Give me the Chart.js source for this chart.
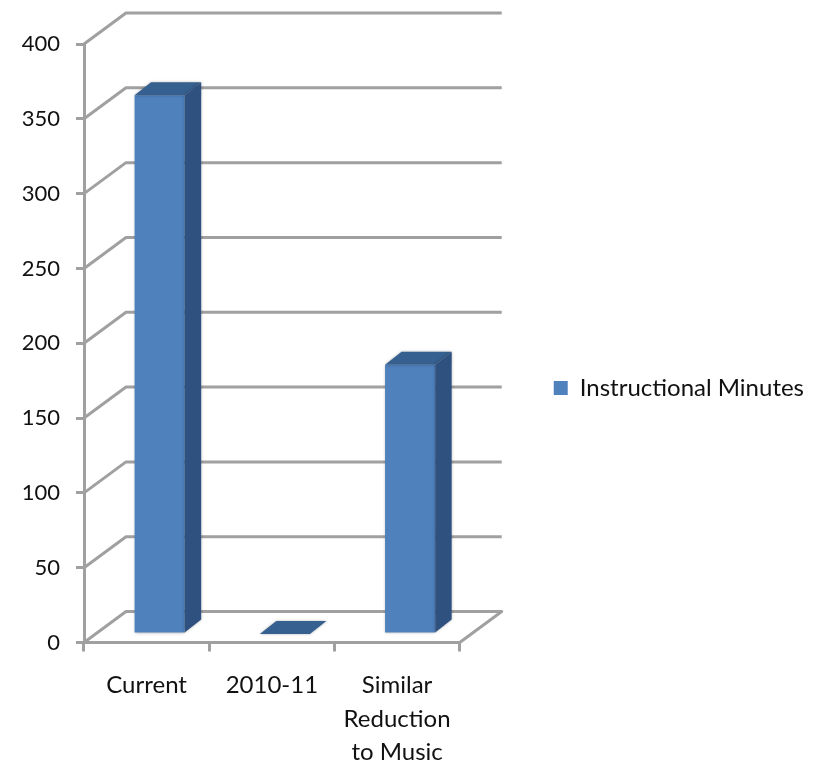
<!DOCTYPE html>
<html>
<head>
<meta charset="utf-8">
<script src="https://cdn.jsdelivr.net/npm/chart.js@4"></script>
<style>
  html, body { margin: 0; padding: 0; background: #fff; }
  canvas { display: block; }
</style>
</head>
<body>
<canvas id="chart" width="825" height="764"></canvas>
<script>
const categories = ["Current", "2010-11", ["Similar", "Reduction", "to Music"]];
const instructionalMinutes = [360, 0, 180];
const seriesName = "Instructional Minutes";

const axisGray = "#a0a0a0";
const textColor = "#111111";
const fontFamily = "Lato, 'Open Sans', sans-serif";

// fake 3D depth, same look as the office chart
const wallDepth = { x: 42, y: -31 };
const barShift = { x: 13, y: -8.5 };
const barDepth = { x: 16.5, y: -13 };

const depthPlugin = {
  id: "depth",
  // legend sits a bit above the middle of the page
  afterLayout(chart) {
    chart.legend.bottom -= 32;
  },
  // back wall, floor and side wall go under the bars
  beforeDatasetsDraw(chart) {
    const { ctx, scales } = chart;
    const left = scales.x.left, right = scales.x.right;
    ctx.save();
    ctx.strokeStyle = axisGray;
    ctx.lineWidth = 3;
    ctx.lineJoin = "round";
    scales.y.ticks.forEach((tick, i) => {
      const y = scales.y.getPixelForTick(i);
      ctx.beginPath();
      ctx.moveTo(left, y);
      ctx.lineTo(left + wallDepth.x, y + wallDepth.y);
      ctx.lineTo(right + wallDepth.x, y + wallDepth.y);
      if (tick.value === 0) ctx.lineTo(right, y);
      ctx.stroke();
    });
    ctx.restore();
  },
  beforeDatasetDraw(chart) {
    const { ctx } = chart;
    ctx.save();
    ctx.translate(barShift.x, barShift.y);
    ctx.shadowColor = "rgba(0,0,0,0.3)";
    ctx.shadowBlur = 3;
  },
  afterDatasetDraw(chart, args) {
    const { ctx } = chart;
    args.meta.data.forEach((bar) => {
      const { x, y, base, width } = bar.getProps(["x", "y", "base", "width"], true);
      const l = x - width / 2, r = x + width / 2;
      // top face
      ctx.fillStyle = "#36608f";
      ctx.beginPath();
      ctx.moveTo(l, y);
      ctx.lineTo(r, y);
      ctx.lineTo(r + barDepth.x, y + barDepth.y);
      ctx.lineTo(l + barDepth.x, y + barDepth.y);
      ctx.closePath();
      ctx.fill();
      // side face
      if (base - y > 0) {
        ctx.fillStyle = "#2f5180";
        ctx.beginPath();
        ctx.moveTo(r, y);
        ctx.lineTo(r + barDepth.x, y + barDepth.y);
        ctx.lineTo(r + barDepth.x, base + barDepth.y);
        ctx.lineTo(r, base);
        ctx.closePath();
        ctx.fill();
      }
    });
    ctx.restore();
  }
};

new Chart(document.getElementById("chart"), {
  type: "bar",
  data: {
    labels: categories,
    datasets: [{
      label: seriesName,
      data: instructionalMinutes,
      backgroundColor: "#4f81bd",
      borderWidth: 0,
      barPercentage: 0.4,
      categoryPercentage: 1,
      clip: false
    }]
  },
  options: {
    responsive: false,
    animation: false,
    layout: { padding: { top: 44, left: 0, right: 11, bottom: 0 } },
    plugins: {
      tooltip: { enabled: false },
      legend: {
        position: "right",
        maxWidth: 366,
        labels: {
          boxWidth: 14,
          boxHeight: 14,
          padding: 94,
          color: textColor,
          font: { family: fontFamily, size: 24 }
        }
      }
    },
    scales: {
      x: {
        afterFit: (scale) => { scale.height = 121.5; },
        border: { color: axisGray, width: 3 },
        grid: { offset: true, drawOnChartArea: false, color: axisGray, lineWidth: 3, tickLength: 9 },
        ticks: {
          maxRotation: 0,
          autoSkip: false,
          padding: 17,
          color: textColor,
          font: { family: fontFamily, size: 24, lineHeight: 1.4 }
        }
      },
      y: {
        min: 0,
        max: 400,
        afterFit: (scale) => { scale.width = 84; },
        border: { color: axisGray, width: 3 },
        grid: { drawOnChartArea: false, color: axisGray, lineWidth: 3, tickLength: 8 },
        ticks: {
          stepSize: 50,
          padding: 16,
          color: textColor,
          font: { family: fontFamily, size: 22 }
        }
      }
    }
  },
  plugins: [depthPlugin]
});
</script>
</body>
</html>
